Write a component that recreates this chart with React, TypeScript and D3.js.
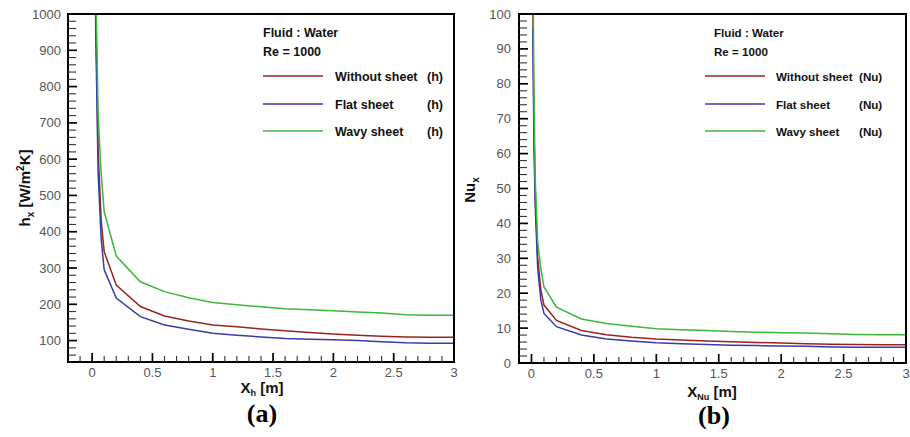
import React from "react";
import * as d3 from "d3";

// ---- data ----
const xPos: number[] = [0.01, 0.02, 0.03, 0.05, 0.075, 0.1, 0.2, 0.4, 0.6, 0.8, 1.0, 1.2, 1.4, 1.6, 1.8, 2.0, 2.2, 2.4, 2.6, 2.8, 3.0];

const hWithout: number[] = [2200, 1400, 1000, 620, 430, 345, 253, 194, 168, 154, 143, 138, 132, 127, 122, 118, 115, 112, 110, 109, 109];
const hFlat: number[] = [2000, 1300, 950, 560, 380, 295, 217, 166, 143, 131, 120, 115, 110, 106, 104, 102, 100, 97, 94, 93, 93];
const hWavy: number[] = [2500, 1600, 1100, 720, 560, 455, 333, 262, 235, 218, 205, 199, 193, 188, 185, 182, 179, 176, 171, 170, 170];

const nuWithout: number[] = [105, 67, 48, 30, 21, 16.6, 12.2, 9.3, 8.1, 7.4, 6.9, 6.6, 6.3, 6.1, 5.9, 5.7, 5.5, 5.4, 5.3, 5.2, 5.2];
const nuFlat: number[] = [96, 62, 45, 27, 18, 14.2, 10.4, 8.0, 6.9, 6.3, 5.8, 5.5, 5.3, 5.1, 5.0, 4.9, 4.8, 4.6, 4.5, 4.5, 4.5];
const nuWavy: number[] = [120, 77, 53, 34.5, 27, 21.8, 16.0, 12.6, 11.3, 10.5, 9.8, 9.5, 9.3, 9.0, 8.8, 8.7, 8.6, 8.4, 8.2, 8.1, 8.1];

const seriesNames: string[] = ["Without sheet", "Flat sheet", "Wavy sheet"];
const seriesColors: string[] = ["#9a2222", "#3a3aa8", "#3cb83c"];

const xTickLabels: number[] = [0, 0.5, 1, 1.5, 2, 2.5, 3];
const hTickLabels: number[] = [100, 200, 300, 400, 500, 600, 700, 800, 900, 1000];
const nuTickLabels: number[] = [0, 10, 20, 30, 40, 50, 60, 70, 80, 90, 100];

const FONT = "'Liberation Sans', Arial, Helvetica, sans-serif";

type PanelProps = {
  id: string;
  x0: number; x1: number; y0: number; y1: number;
  xDomain: [number, number];
  yDomain: [number, number];
  yMajor: number[];
  yMinorStep: number;
  series: number[][];
  unit: string;
  legendFont: number;
  legendX: number;
  legendLineX: number;
  legendTextX: number;
  legendUnitX: number;
  yLabelRight: number;
  xLabelY: number;
  yTitle: React.ReactNode;
  xTitle: React.ReactNode;
  caption: string;
  captionX: number;
  captionY: number;
};

function Panel(p: PanelProps) {
  const xs = d3.scaleLinear().domain(p.xDomain).range([p.x0, p.x1]);
  const ys = d3.scaleLinear().domain(p.yDomain).range([p.y1, p.y0]);
  const lineGen = d3.line<[number, number]>().x(d => xs(d[0])).y(d => ys(d[1]));

  const xMinor: number[] = [];
  for (let k = Math.ceil(p.xDomain[0] * 10) + 1; k < Math.round(p.xDomain[1] * 10); k++) {
    if (k % 5 !== 0) xMinor.push(k / 10);
  }
  const yMinor: number[] = [];
  for (let v = Math.ceil(p.yDomain[0] / p.yMinorStep) * p.yMinorStep; v < p.yDomain[1]; v += p.yMinorStep) {
    if (v > p.yDomain[0] && !p.yMajor.some(m => Math.abs(m - v) < 1e-6)) yMinor.push(v);
  }
  const xMajor = xTickLabels.filter(v => v < p.xDomain[1] - 1e-6);

  const legendYs = [76, 104, 131];

  return (
    <g>
      <defs>
        <clipPath id={`clip-${p.id}`}>
          <rect x={p.x0} y={p.y0} width={p.x1 - p.x0} height={p.y1 - p.y0} />
        </clipPath>
      </defs>
      <g clipPath={`url(#clip-${p.id})`}>
        {p.series.map((s, i) => (
          <path key={i} d={lineGen(xPos.map((x, j) => [x, s[j]] as [number, number])) || ""}
            fill="none" stroke={seriesColors[i]} strokeWidth={1.5} />
        ))}
      </g>
      {p.yMajor.map(v => (
        <text key={"yl" + v} x={p.yLabelRight} y={ys(v)} dy="0.35em" textAnchor="end"
          fontFamily={FONT} fontSize={13} fill="#555">{v}</text>
      ))}
      {xTickLabels.map(v => (
        <text key={"xl" + v} x={xs(v)} y={p.xLabelY} textAnchor="middle"
          fontFamily={FONT} fontSize={13} fill="#555">{v}</text>
      ))}
      <rect x={p.x0} y={p.y0} width={p.x1 - p.x0} height={p.y1 - p.y0} fill="none" stroke="#000" strokeWidth={2} />
      {yMinor.map(v => (
        <line key={"ym" + v} x1={p.x0} x2={p.x0 + 8} y1={ys(v)} y2={ys(v)} stroke="#333" strokeWidth={1.1} />
      ))}
      {p.yMajor.map(v => (
        <line key={"yM" + v} x1={p.x0} x2={p.x0 + 9} y1={ys(v)} y2={ys(v)} stroke="#000" strokeWidth={1.7} />
      ))}
      {xMinor.map(v => (
        <line key={"xm" + v} x1={xs(v)} x2={xs(v)} y1={p.y1} y2={p.y1 - 6} stroke="#333" strokeWidth={1.1} />
      ))}
      {xMajor.map(v => (
        <line key={"xM" + v} x1={xs(v)} x2={xs(v)} y1={p.y1} y2={p.y1 - 9} stroke="#000" strokeWidth={1.7} />
      ))}
      <text x={p.legendX} y={37} fontFamily={FONT} fontSize={p.legendFont} fontWeight="bold" fill="#111">Fluid : Water</text>
      <text x={p.legendX} y={56} fontFamily={FONT} fontSize={p.legendFont} fontWeight="bold" fill="#111">Re = 1000</text>
      {seriesNames.map((n, i) => (
        <g key={n}>
          <path d={`M${p.legendLineX},${legendYs[i]}H${p.legendLineX + 60}`} stroke={seriesColors[i]} strokeWidth={1.5} />
          <text x={p.legendTextX} y={legendYs[i] + 4.5} fontFamily={FONT} fontSize={p.legendFont} fontWeight="bold" fill="#111">{n}</text>
          <text x={p.legendUnitX} y={legendYs[i] + 4.5} fontFamily={FONT} fontSize={p.legendFont} fontWeight="bold" fill="#111">({p.unit})</text>
        </g>
      ))}
      {p.yTitle}
      {p.xTitle}
      <text x={p.captionX} y={p.captionY} textAnchor="middle" fontFamily="'Liberation Serif', 'Times New Roman', serif"
        fontSize={26} fontWeight="bold" fill="#000">{p.caption}</text>
    </g>
  );
}

export default function App() {
  const titleStyle = { fontFamily: FONT, fontWeight: "bold" as const, fill: "#111" };
  return (
    <div style={{ position: "absolute", left: 0, top: 0 }}>
      <svg width={910} height={437} style={{ display: "block", background: "#fff" }}>
        <Panel
          id="a"
          x0={68} x1={454} y0={14} y1={362}
          xDomain={[-0.2, 3]} yDomain={[41, 1000]}
          yMajor={hTickLabels} yMinorStep={20}
          series={[hWithout, hFlat, hWavy]}
          unit="h"
          legendFont={12.5}
          legendX={263} legendLineX={263} legendTextX={335} legendUnitX={427}
          yLabelRight={61}
          xLabelY={377}
          yTitle={
            <text transform="translate(30,188) rotate(-90)" textAnchor="middle" fontSize={15} {...titleStyle}>
              <tspan>h</tspan>
              <tspan fontSize={10} dy={4}>x</tspan>
              <tspan dy={-4}> [W/m</tspan>
              <tspan fontSize={10} dy={-6}>2</tspan>
              <tspan dy={6}>K]</tspan>
            </text>
          }
          xTitle={
            <text x={262} y={393} textAnchor="middle" fontSize={15} {...titleStyle}>
              <tspan>X</tspan>
              <tspan fontSize={9} dy={3}>h</tspan>
              <tspan dy={-3}> [m]</tspan>
            </text>
          }
          caption="(a)" captionX={262} captionY={422}
        />
        <Panel
          id="b"
          x0={519} x1={906} y0={14} y1={363}
          xDomain={[-0.1, 3]} yDomain={[0, 100]}
          yMajor={nuTickLabels} yMinorStep={2}
          series={[nuWithout, nuFlat, nuWavy]}
          unit="Nu"
          legendFont={11.6}
          legendX={714} legendLineX={705} legendTextX={776} legendUnitX={859}
          yLabelRight={511}
          xLabelY={378}
          yTitle={
            <text transform="translate(475,190) rotate(-90)" textAnchor="middle" fontSize={15} {...titleStyle}>
              <tspan>Nu</tspan>
              <tspan fontSize={10} dy={4}>x</tspan>
            </text>
          }
          xTitle={
            <text x={712} y={397} textAnchor="middle" fontSize={15} {...titleStyle}>
              <tspan>X</tspan>
              <tspan fontSize={9} dy={3}>Nu</tspan>
              <tspan dy={-3}> [m]</tspan>
            </text>
          }
          caption="(b)" captionX={714} captionY={424}
        />
      </svg>
    </div>
  );
}
